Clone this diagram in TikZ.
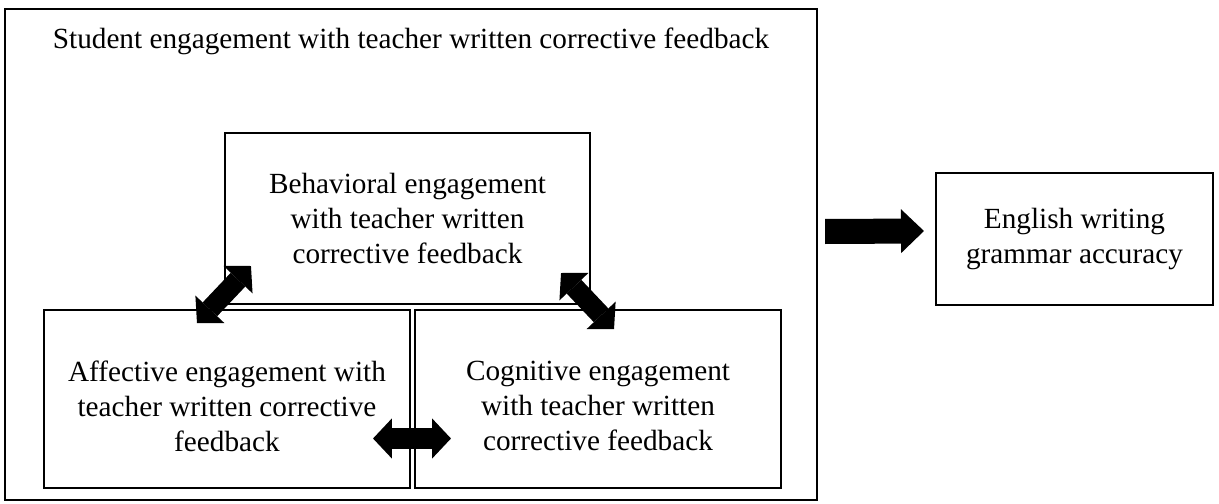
\documentclass[tikz,border=0pt]{standalone}
\usepackage{fontspec}
\setmainfont{Liberation Serif}
\usetikzlibrary{arrows.meta,positioning}

\begin{document}
\begin{tikzpicture}[x=0.025cm,y=-0.025cm,
  cadre/.style={draw,line width=1.4pt,inner sep=0pt},
  texte/.style={align=center,inner sep=0pt,font=\fontsize{20.8}{24.9}\selectfont},
  fleche/.style={line width=0.625cm,-{Triangle[length=0.575cm,width=1.1cm,line width=0pt]}},
  dfleche/.style={line width=0.5cm,{Triangle[length=0.47cm,width=1cm,line width=0pt]}-{Triangle[length=0.47cm,width=1cm,line width=0pt]}}]
  \useasboundingbox (0,0) rectangle (1219,504);
  % grand cadre et les trois formes d'engagement
  \node[cadre,minimum width=20.3cm,minimum height=12.275cm] (ext) at (411,254.5) {};
  \node[texte] (titre) at (411,41) {Student engagement with teacher written corrective feedback};
  \node[cadre,texte,minimum width=9.125cm,minimum height=4.275cm] (beh) at (407.5,218.5) {Behavioral engagement\\with teacher written\\corrective feedback};
  \node[cadre,minimum width=9.15cm,minimum height=4.45cm] (aff) at (227,399) {};
  \node[cadre,minimum width=9.15cm,minimum height=4.45cm] (cog) at (598,399) {};
  \node[texte] (afftxt) at ([shift={(0,7)}]aff.center) {Affective engagement with\\teacher written corrective\\feedback};
  \node[texte] (cogtxt) at ([shift={(0,7)}]cog.center) {Cognitive engagement\\with teacher written\\corrective feedback};
  \node[cadre,texte,minimum width=6.925cm,minimum height=3.3cm] (eng) at (1074.5,239) {English writing\\grammar accuracy};
  % fleches
  \draw[dfleche] ([shift={(-27,18)}]beh.south west) -- ([shift={(27,-39)}]beh.south west);
  \draw[dfleche] ([shift={(-30,-32)}]beh.south east) -- ([shift={(23,24)}]beh.south east);
  \draw[dfleche] ([shift={(-38,39.5)}]aff.east) -- ([shift={(37,39.5)}]cog.west);
  \draw[fleche] ([shift={(7,-23)}]ext.east) -- ([shift={(-11,-8)}]eng.west);
\end{tikzpicture}
\end{document}
